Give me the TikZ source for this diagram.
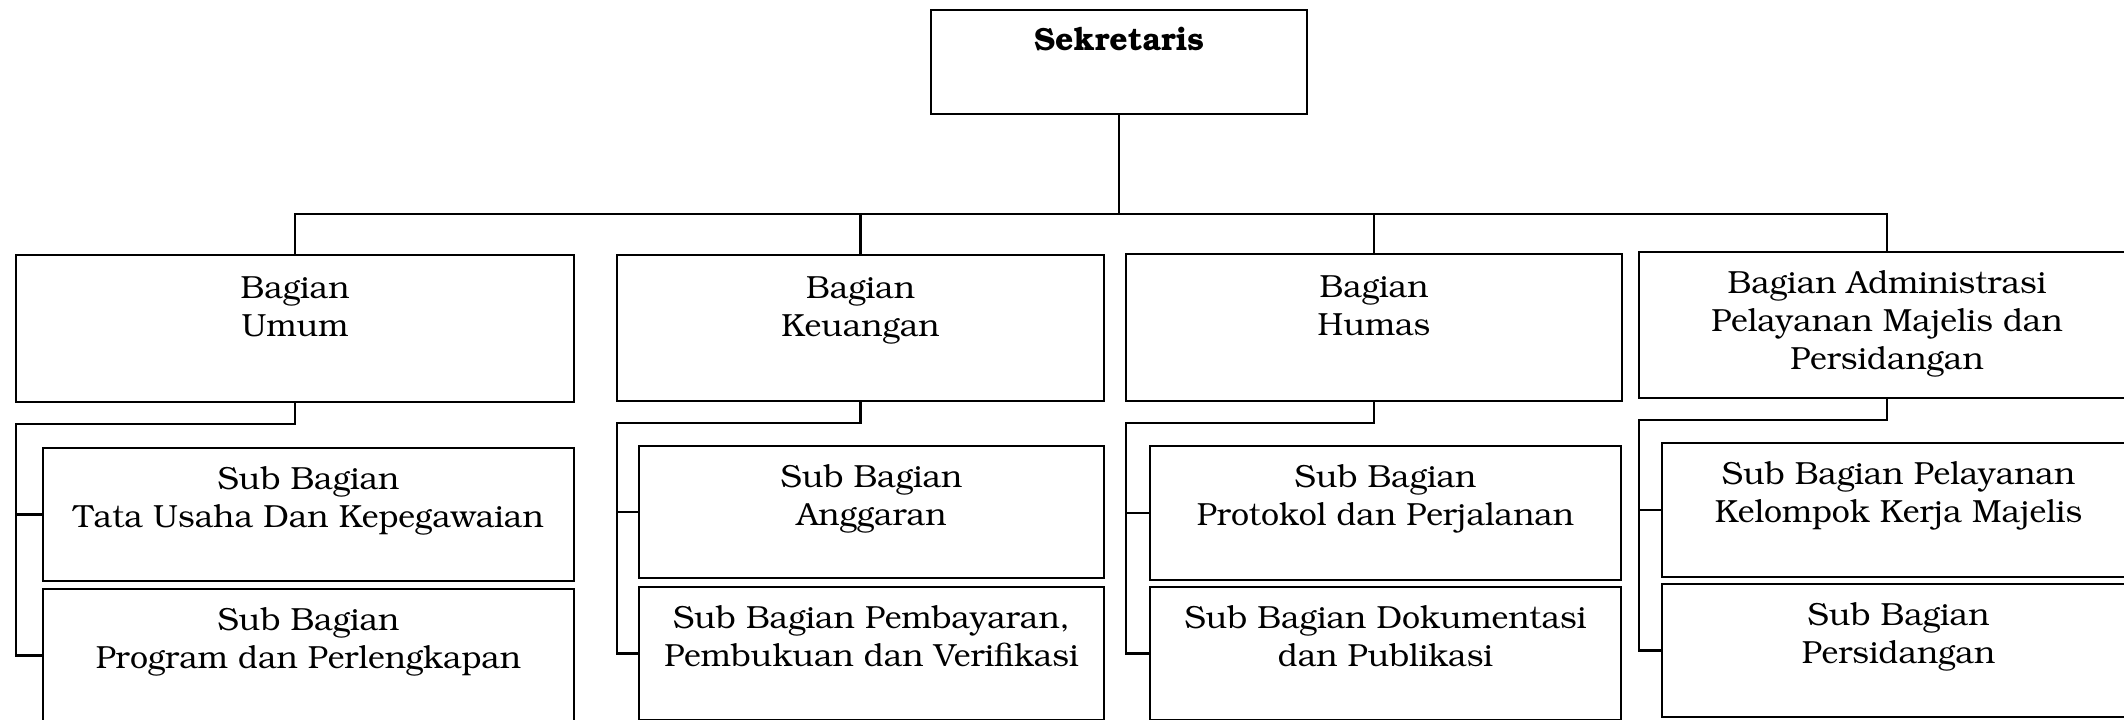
\documentclass[tikz,border=0pt]{standalone}
\usepackage[T1]{fontenc}
\usepackage{bookman}
\tikzset{
  box/.style={draw, line width=1.3pt, inner sep=0pt, outer sep=0pt, anchor=north west},
  lbl/.style={anchor=north, inner sep=0pt, align=center, font=\fontsize{16}{19}\selectfont},
  conn/.style={line width=1.3pt},
}
\begin{document}
\begin{tikzpicture}[x=0.5pt,y=-0.5pt]
\useasboundingbox (0,0) rectangle (2124,719);
% top
\node[box, minimum width=188pt, minimum height=52pt] (sek) at (931,10) {};
\node[lbl, font=\fontsize{16}{19}\selectfont\bfseries] (sekt) at ([yshift=-8.6pt]sek.north) {Sekretaris};
% row 1
\node[box, minimum width=279pt, minimum height=73.5pt] (umum) at (16,255) {};
\node[box, minimum width=243.5pt, minimum height=73pt] (keu) at (617,255) {};
\node[box, minimum width=248pt, minimum height=73.5pt] (hum) at (1126,254) {};
\node[box, minimum width=248pt, minimum height=73pt] (adm) at (1639,252) {};
\node[lbl] (umumt) at ([yshift=-10.2pt]umum.north) {Bagian\\Umum};
\node[lbl] (keut) at ([yshift=-10.2pt]keu.north) {Bagian\\Keuangan};
\node[lbl] (humt) at ([yshift=-10.2pt]hum.north) {Bagian\\Humas};
\node[lbl] (admt) at ([yshift=-9.6pt]adm.north) {Bagian Administrasi\\Pelayanan Majelis dan\\Persidangan};
% sub boxes
\node[box, minimum width=265.5pt, minimum height=66.5pt] (us1) at (43,448) {};
\node[box, minimum width=265.5pt, minimum height=66.5pt] (us2) at (43,589) {};
\node[box, minimum width=232.5pt, minimum height=66pt] (ks1) at (639,446) {};
\node[box, minimum width=232.5pt, minimum height=66.5pt] (ks2) at (639,587) {};
\node[box, minimum width=235.5pt, minimum height=67pt] (hs1) at (1150,446) {};
\node[box, minimum width=235.5pt, minimum height=66.5pt] (hs2) at (1150,587) {};
\node[box, minimum width=236.5pt, minimum height=67pt] (as1) at (1662,443) {};
\node[box, minimum width=236.5pt, minimum height=66.5pt] (as2) at (1662,584) {};
\node[lbl] (us1t) at ([yshift=-9.6pt]us1.north) {Sub Bagian\\Tata Usaha Dan Kepegawaian};
\node[lbl] (us2t) at ([yshift=-9.6pt]us2.north) {Sub Bagian\\Program dan Perlengkapan};
\node[lbl] (ks1t) at ([yshift=-9.6pt]ks1.north) {Sub Bagian\\Anggaran};
\node[lbl] (ks2t) at ([yshift=-9.6pt]ks2.north) {Sub Bagian Pembayaran,\\Pembukuan dan Verifikasi};
\node[lbl] (hs1t) at ([yshift=-9.6pt]hs1.north) {Sub Bagian\\Protokol dan Perjalanan};
\node[lbl] (hs2t) at ([yshift=-9.6pt]hs2.north) {Sub Bagian Dokumentasi\\dan Publikasi};
\node[lbl] (as1t) at ([yshift=-9.6pt]as1.north) {Sub Bagian Pelayanan\\Kelompok Kerja Majelis};
\node[lbl] (as2t) at ([yshift=-9.6pt]as2.north) {Sub Bagian\\Persidangan};
% connectors
\coordinate (busy) at (0,214);
\draw[conn] (sek.south) -- (sek.south |- busy);
\draw[conn] (umum.north) -- (umum.north |- busy) -- (adm.north |- busy) -- (adm.north);
\draw[conn] (keu.north) -- (keu.north |- busy);
\draw[conn] (hum.north) -- (hum.north |- busy);
\foreach \p/\a/\b in {umum/us1/us2, keu/ks1/ks2, hum/hs1/hs2, adm/as1/as2}{
  \draw[conn] (\p.south) -- ++(0,22) -| (\b.west -| \p.west) -- (\b.west);
  \draw[conn] (\a.west -| \p.west) -- (\a.west);
}
\end{tikzpicture}
\end{document}
